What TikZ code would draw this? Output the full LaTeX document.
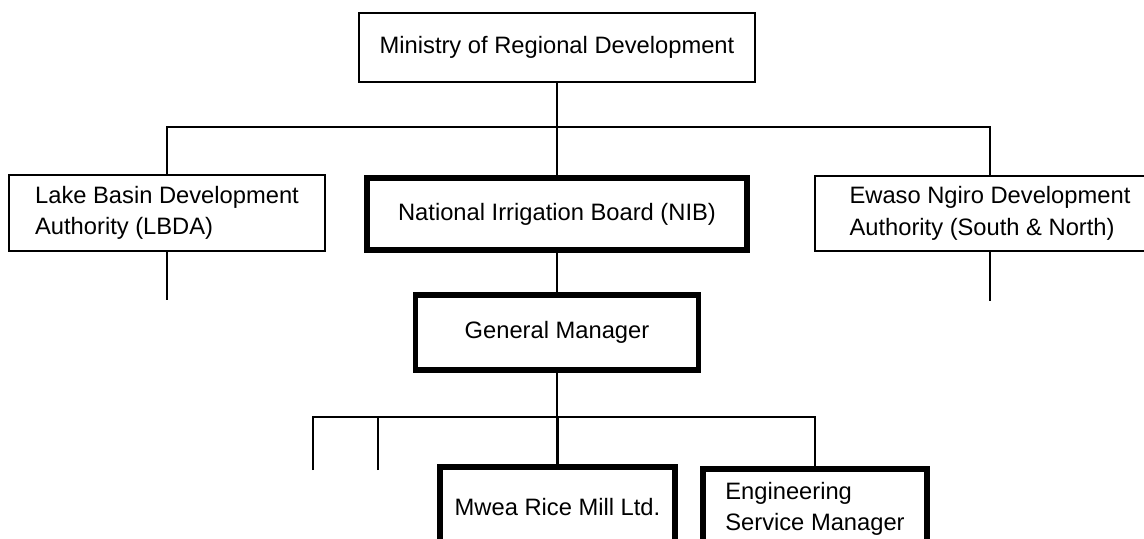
\documentclass[tikz,border=0pt]{standalone}
\usepackage{fontspec}
\setmainfont{Liberation Sans}
\usetikzlibrary{positioning,calc}

\begin{document}
\begin{tikzpicture}[
    font=\fontsize{13.5}{18}\selectfont,
    unit/.style={draw=black, line width=1.5pt, inner sep=0pt, align=left},
    core/.style={unit, line width=3pt, align=center},
    link/.style={draw=black, line width=1.2pt},
]
    \useasboundingbox (0,0) rectangle (22.88,-10.76);

    % --- Ministry ---
    \node[unit, align=center, minimum width=7.92cm, minimum height=1.38cm] (ministry) at (11.14,-0.95) {Ministry of Regional Development};

    % --- Authorities row ---
    \node[unit, minimum width=6.32cm, minimum height=1.52cm] (lbda) at (3.34,-4.26) {Lake Basin Development\\Authority (LBDA)};
    \node[core, minimum width=7.6cm, minimum height=1.44cm] (nib) at (11.14,-4.28) {National Irrigation Board (NIB)};
    \node[unit, minimum width=7.0cm, minimum height=1.50cm] (ewaso) at (19.80,-4.27) {Ewaso Ngiro Development\\Authority (South \& North)};

    % --- NIB management ---
    \node[core, minimum width=5.66cm, minimum height=1.5cm] (gm) at (11.14,-6.65) {General Manager};
    \node[core, minimum width=4.7cm, minimum height=1.6cm] (mwea) at (11.15,-10.14) {Mwea Rice Mill Ltd.};
    \node[core, align=left, minimum width=4.48cm, minimum height=1.6cm] (eng) at (16.30,-10.18) {Engineering\\Service Manager};

    % --- Bus lines and open ends ---
    \coordinate (topbus) at (0,-2.54);
    \coordinate (lowbus) at (0,-8.34);
    \coordinate (lbdaend) at ($(lbda.south)+(0,-0.96)$);
    \coordinate (ewasoend) at ($(ewaso.south)+(0,-0.98)$);
    \coordinate (unitA) at (6.26,-9.40);
    \coordinate (unitB) at (7.56,-9.40);

    % Ministry to the three authorities
    \draw[link] (ministry.south) -- (ministry.south |- topbus);
    \draw[link] (lbda.north) |- (ministry.south |- topbus) -| (ewaso.north);
    \draw[link] (nib.north) -- (nib.north |- topbus);
    \draw[link] (lbda.south) -- (lbdaend);
    \draw[link] (ewaso.south) -- (ewasoend);

    % NIB down to the departments
    \draw[link] (nib.south) -- (gm.north);
    \draw[link] (gm.south) -- (gm.south |- lowbus);
    \draw[link] (unitA) |- (gm.south |- lowbus) -| (eng.north);
    \draw[link] (unitB) -- (unitB |- lowbus);
    \draw[link] (mwea.north) -- (mwea.north |- lowbus);

\end{tikzpicture}
\end{document}
